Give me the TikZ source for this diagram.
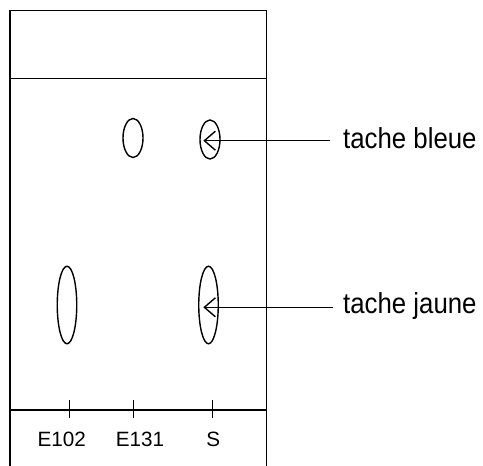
\documentclass[tikz,border=0pt]{standalone}
\usepackage{fontspec}
\setmainfont{Liberation Sans}
\usetikzlibrary{shapes.geometric,arrows.meta}
\begin{document}
\begin{tikzpicture}[x=1bp,y=-1bp,
  frame/.style={line width=1.4bp},
  spot/.style={draw,ellipse,line width=1.4bp,inner sep=0pt},
  pointer/.style={line width=1.4bp,-{Straight Barb[length=11bp,width=19bp,line width=1.4bp]}},
  bigtext/.style={anchor=base west,inner sep=0pt,font=\fontsize{25.8bp}{30bp}\selectfont},
  lab/.style={anchor=base,inner sep=0pt,font=\fontsize{20.7bp}{24bp}\selectfont}]
\useasboundingbox (0,0) rectangle (483,466);
% plate
\coordinate (tl) at (10,10.5);
\coordinate (tr) at (266.5,10.5);
\coordinate (bl) at (10,466);
\coordinate (br) at (266.5,466);
\coordinate (ml) at (10,78.5);
\coordinate (mr) at (266.5,78.5);
\coordinate (sl) at (10,410);
\coordinate (sr) at (266.5,410);
\draw[frame] (bl) -- (tl) -- (tr) -- (br);
\draw[frame] (ml) -- (mr);
\draw[frame] (sl) -- (sr);
% ticks
\coordinate (t1a) at (69.3,400); \coordinate (t1b) at (69.3,418);
\coordinate (t2a) at (133.3,400); \coordinate (t2b) at (133.3,418);
\coordinate (t3a) at (212.3,400); \coordinate (t3b) at (212.3,418);
\draw[frame] (t1a) -- (t1b);
\draw[frame] (t2a) -- (t2b);
\draw[frame] (t3a) -- (t3b);
\node[lab] (l1) at (61.7,446) {E102};
\node[lab] (l2) at (140,446) {E131};
\node[lab] (l3) at (213.3,446) {S};
% spots
\node[spot,minimum width=20bp,minimum height=39bp] (e131) at (133,138) {};
\node[spot,minimum width=20bp,minimum height=39bp] (sb) at (210,139.5) {};
\node[spot,minimum width=19.5bp,minimum height=77.5bp] (e102) at (67,305) {};
\node[spot,minimum width=19.5bp,minimum height=77.5bp] (sj) at (208.5,305) {};
% labels with pointers
\coordinate (bs) at (330,140.7);
\coordinate (bt) at (203.3,140.7);
\draw[pointer] (bs) -- (bt);
\node[bigtext] (tb) at (343,148.3) {\scalebox{1}[1.12]{tache bleue}};
\coordinate (js) at (333,307.3);
\coordinate (jt) at (203.3,307.3);
\draw[pointer] (js) -- (jt);
\node[bigtext] (tj) at (343,313.3) {\scalebox{1}[1.12]{tache jaune}};
\end{tikzpicture}
\end{document}
